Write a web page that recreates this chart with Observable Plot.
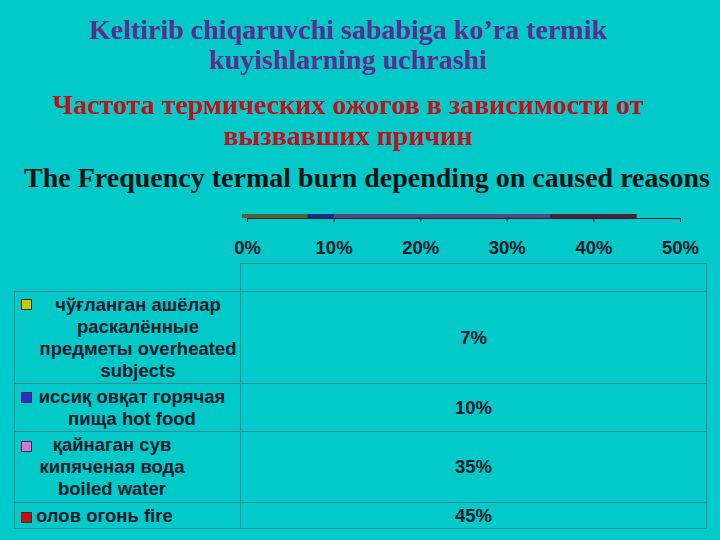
<!DOCTYPE html>
<html>
<head>
<meta charset="utf-8">
<script src="https://cdn.jsdelivr.net/npm/d3@7"></script>
<script src="https://cdn.jsdelivr.net/npm/@observablehq/plot@0.6"></script>
<style>
  html, body { margin: 0; padding: 0; background: #03c9c9; }
  #wrap { position: relative; width: 720px; height: 540px; overflow: hidden; background: #03c9c9; }
  .t { position: absolute; text-align: center; font-family: "Liberation Serif", "Times New Roman", serif; font-weight: bold; white-space: nowrap; }
  #chart { position: absolute; left: 0; top: 197px; }
  table { position: absolute; left: 14px; top: 263px; border-collapse: collapse; font-family: "Liberation Sans", Arial, sans-serif; font-weight: bold; font-size: 18.5px; color: #0a1a2a; }
  td { border: 1px solid #3d8595; padding: 0; vertical-align: middle; }
  td.lab { width: 225px; position: relative; line-height: 22px; white-space: pre-line; }
  td.val { width: 465px; text-align: center; }
  .sw { position: absolute; left: 6px; width: 9px; height: 9px; border: 1px solid #334; }
</style>
</head>
<body>
<div id="wrap">
  <div class="t" style="left:48px;width:600px;top:15px;font-size:28px;line-height:30px;color:#5b2e8e;">Keltirib chiqaruvchi sababiga ko’ra termik<br>kuyishlarning uchrashi</div>
  <div class="t" style="left:48px;width:600px;top:89px;font-size:28px;line-height:31px;color:#c0121c;">Частота термических ожогов в зависимости от<br>вызвавших причин</div>
  <div class="t" style="left:0px;width:734px;top:162px;font-size:28px;line-height:32px;color:#0a1414;">The Frequency termal burn depending on caused reasons</div>
  <div id="chart"></div>
</div>
<script>
const categories = [
  "чўғланган ашёлар раскалённые предметы overheated subjects",
  "иссиқ овқат горячая пища hot food",
  "қайнаган сув\nкипяченая вода\nboiled water",
  "олов огонь fire"
];
const values = [0.07, 0.10, 0.35, 0.45];
const colors = ["#c8c800", "#2a2ad0", "#d27ad0", "#d00a0a"];
const xTicks = [0, 0.1, 0.2, 0.3, 0.4, 0.5];

// the thin bars in the picture read darker than the legend swatches
const shade = c => d3.interpolateRgb(c, "#0b3050")(0.65);
const data = categories.map((c, i) => ({category: c, value: values[i], color: shade(colors[i])}))
  .sort((a, b) => b.value - a.value);

const chart = Plot.plot({
  width: 720,
  height: 60,
  marginLeft: 247,
  marginRight: 40,
  marginTop: 17,
  marginBottom: 39,
  x: {domain: [0, 0.5], ticks: xTicks, tickFormat: d3.format(".0%"), line: true, tickSize: 4, tickPadding: 18, label: null},
  style: {background: "transparent", fontFamily: "Liberation Sans, Arial, sans-serif", fontSize: "18.5px", fontWeight: "bold", color: "#0a1a2a", overflow: "visible"},
  marks: [
    Plot.barX(data, {x1: () => 0, x2: "value", fill: "color", insetLeft: -5})
  ]
});
document.getElementById("chart").appendChild(chart);

// data table
const rowHeights = [92, 48, 71, 26];
const padRight = [0, 12, 52, 0];
const swTop = [7, 8, 9, 9];
const table = document.createElement("table");
const head = document.createElement("tr");
head.style.height = "28px";
const h1 = document.createElement("td"); h1.style.border = "none"; h1.style.borderBottom = "1px solid #3d8595"; h1.className = "lab";
const h2 = document.createElement("td"); h2.className = "val";
head.appendChild(h1); head.appendChild(h2);
table.appendChild(head);
categories.forEach((c, i) => {
  const tr = document.createElement("tr");
  tr.style.height = rowHeights[i] + "px";
  const td1 = document.createElement("td");
  td1.className = "lab";
  const sw = document.createElement("span");
  sw.className = "sw";
  sw.style.background = colors[i];
  sw.style.top = swTop[i] + "px";
  td1.appendChild(sw);
  const txt = document.createElement("div");
  txt.textContent = c;
  txt.style.paddingLeft = "21px";
  txt.style.paddingRight = padRight[i] + "px";
  txt.style.textAlign = i === 3 ? "left" : "center";
  if (c.includes("\n") || i === 3) txt.style.whiteSpace = "pre";
  td1.appendChild(txt);
  const td2 = document.createElement("td");
  td2.className = "val";
  td2.textContent = d3.format(".0%")(values[i]);
  tr.appendChild(td1); tr.appendChild(td2);
  table.appendChild(tr);
});
document.getElementById("wrap").appendChild(table);
</script>
</body>
</html>
